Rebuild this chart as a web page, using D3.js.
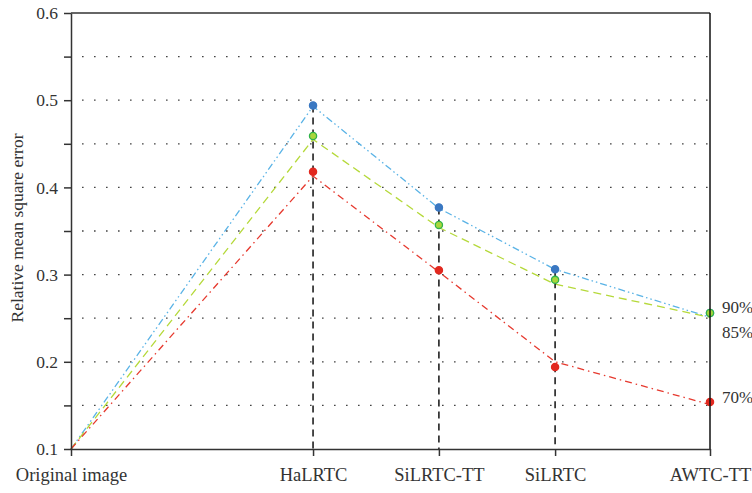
<!DOCTYPE html>
<html>
<head>
<meta charset="utf-8">
<script src="https://cdn.jsdelivr.net/npm/d3@7"></script>
<style>
  body { margin: 0; background: #fff; }
  text { font-family: "Liberation Serif", "DejaVu Serif", serif; fill: #333; }
</style>
</head>
<body>
<div id="vis"></div>
<script>
var categories = ['Original image', 'HaLRTC', 'SiLRTC-TT', 'SiLRTC', 'AWTC-TT'];
var catPos = [0, 10, 15.2, 20, 26.4];

// lines and dots don't sit exactly on each other in the original figure
var line90 = [0.1, 0.493, 0.376, 0.306, 0.251];
var line85 = [0.1, 0.455, 0.354, 0.289, 0.251];
var line70 = [0.1, 0.413, 0.303, 0.200, 0.151];

var dots90 = [null, 0.494, 0.377, 0.306, 0.256];
var dots85 = [null, 0.459, 0.357, 0.294, 0.256];
var dots70 = [null, 0.418, 0.305, 0.194, 0.154];

var seriesLabels = ['90%', '85%', '70%'];
var labelAt = [0.263, 0.234, 0.160];

var yTicks = [0.1, 0.15, 0.2, 0.25, 0.3, 0.35, 0.4, 0.45, 0.5, 0.55, 0.6];

var width = 752,
    height = 493,
    margin = {top: 13, right: 42, bottom: 44, left: 71};

var xScale = d3.scaleLinear()
  .domain([0, 26.4])
  .range([margin.left, width - margin.right]);

var yScale = d3.scaleLinear()
  .domain([0.1, 0.6])
  .range([height - margin.bottom, margin.top]);

var svg = d3.select('#vis')
  .append('svg')
    .attr('width', width)
    .attr('height', height);

// dotted grid
svg.append('g')
  .selectAll('line')
  .data(yTicks.slice(1, -1))
  .enter()
  .append('line')
    .attr('x1', margin.left + 11)
    .attr('x2', width - margin.right)
    .attr('y1', function(d) { return yScale(d); })
    .attr('y2', function(d) { return yScale(d); })
    .attr('stroke', '#444')
    .attr('stroke-width', 1.3)
    .attr('stroke-dasharray', '1.6,10.4');

var series = [
  {line: line90, dots: dots90, lineColor: '#5ab3e6', dash: '7,3,1.5,3,1.5,3', fill: '#3a78c2', stroke: '#3a78c2'},
  {line: line85, dots: dots85, lineColor: '#b5d93a', dash: '8,5', fill: '#a9d63c', stroke: '#2fb34a'},
  {line: line70, dots: dots70, lineColor: '#e6392e', dash: '7,4,1.5,4', fill: '#e2281f', stroke: '#e2281f'}
];

var lineGen = d3.line()
  .x(function(d, i) { return xScale(catPos[i]); })
  .y(function(d) { return yScale(d); });

svg.append('g')
  .selectAll('path')
  .data(series)
  .enter()
  .append('path')
    .attr('d', function(s) { return lineGen(s.line); })
    .attr('fill', 'none')
    .attr('stroke', function(s) { return s.lineColor; })
    .attr('stroke-width', 1.3)
    .attr('stroke-dasharray', function(s) { return s.dash; });

// black dashed drop lines from the top dot to the axis
svg.append('g')
  .selectAll('line')
  .data([1, 2, 3])
  .enter()
  .append('line')
    .attr('x1', function(i) { return xScale(catPos[i]); })
    .attr('x2', function(i) { return xScale(catPos[i]); })
    .attr('y1', function(i) { return yScale(d3.max([dots90[i], dots85[i], dots70[i]])); })
    .attr('y2', yScale(0.1))
    .attr('stroke', '#111')
    .attr('stroke-width', 1.5)
    .attr('stroke-dasharray', '7,5');

series.forEach(function(s) {
  svg.append('g')
    .selectAll('circle')
    .data(s.dots.map(function(v, i) { return {v: v, i: i}; }).filter(function(d) { return d.v != null; }))
    .enter()
    .append('circle')
      .attr('cx', function(d) { return xScale(catPos[d.i]); })
      .attr('cy', function(d) { return yScale(d.v); })
      .attr('r', 3.6)
      .attr('fill', s.fill)
      .attr('stroke', s.stroke)
      .attr('stroke-width', 1.3);
});

// frame
svg.append('line')
  .attr('x1', margin.left).attr('x2', width - margin.right)
  .attr('y1', margin.top).attr('y2', margin.top)
  .attr('stroke', '#333').attr('stroke-width', 1.5);
svg.append('line')
  .attr('x1', width - margin.right).attr('x2', width - margin.right)
  .attr('y1', margin.top).attr('y2', height - margin.bottom)
  .attr('stroke', '#111').attr('stroke-width', 1.5);

var yAxis = d3.axisLeft(yScale)
  .tickValues(yTicks)
  .tickSize(7)
  .tickSizeOuter(0)
  .tickPadding(6)
  .tickFormat(function(d) { return Math.round(d * 100) % 10 === 0 ? d3.format('.1f')(d) : ''; });

var yG = svg.append('g')
  .attr('transform', 'translate(' + margin.left + ',0)')
  .call(yAxis);

var xAxis = d3.axisBottom(xScale)
  .tickValues(catPos)
  .tickSize(7)
  .tickSizeOuter(0)
  .tickPadding(12)
  .tickFormat(function(d, i) { return categories[i]; });

var xG = svg.append('g')
  .attr('transform', 'translate(0,' + (height - margin.bottom) + ')')
  .call(xAxis);

[yG, xG].forEach(function(g) {
  g.selectAll('path, line').attr('stroke', '#333').attr('stroke-width', 1.5);
  g.selectAll('text')
    .style('font-family', '"Liberation Serif", serif')
    .attr('fill', '#333');
});
yG.selectAll('text').style('font-size', '17.5px');
xG.selectAll('text').style('font-size', '18.5px');

svg.append('text')
  .attr('transform', 'translate(23,' + 228 + ') rotate(-90)')
  .attr('text-anchor', 'middle')
  .style('font-size', '17.5px')
  .text('Relative mean square error');

svg.append('g')
  .selectAll('text')
  .data(seriesLabels)
  .enter()
  .append('text')
    .attr('x', width - margin.right + 12)
    .attr('y', function(d, i) { return yScale(labelAt[i]); })
    .attr('dy', '0.35em')
    .style('font-size', '17px')
    .text(function(d) { return d; });
</script>
</body>
</html>
